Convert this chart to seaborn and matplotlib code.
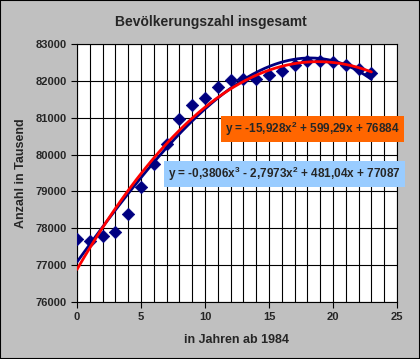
import numpy as np
import pandas as pd
import seaborn as sns
import matplotlib.pyplot as plt
from matplotlib.patches import Rectangle

# Werte
jahre = list(range(0, 24))
bevoelkerung = [77710, 77660, 77780, 77900, 78390, 79110, 79750, 80275,
                80975, 81340, 81540, 81820, 82010, 82060, 82040, 82160,
                82260, 82440, 82540, 82530, 82500, 82440, 82320, 82220]

# Trendlinien-Koeffizienten (wie im Diagramm angegeben)
koeff_quad = [-15.928, 599.29, 76884]
koeff_kub = [-0.3806, -2.7973, 481.04, 77087]
text_quad = "y = -15,928x$^2$ + 599,29x + 76884"
text_kub = "y = -0,3806x$^3$ - 2,7973x$^2$ + 481,04x + 77087"

sns.set_style("white")
plt.rcParams['font.family'] = ['Liberation Sans', 'DejaVu Sans']
plt.rcParams['font.weight'] = 'bold'
plt.rcParams['mathtext.default'] = 'regular'

df = pd.DataFrame({"jahr": jahre, "anzahl": bevoelkerung})
xs = np.linspace(0, 23, 200)
trend = pd.DataFrame({"x": xs,
                      "quad": np.polyval(koeff_quad, xs),
                      "kub": np.polyval(koeff_kub, xs)})

fig = plt.figure(figsize=(4.2, 3.59), dpi=100, facecolor="#c0c0c0")
ax = fig.add_axes([77 / 420, 1 - 302 / 359, 320 / 420, 258 / 359])
ax.set_facecolor("white")

sns.scatterplot(data=df, x="jahr", y="anzahl", marker="D", s=40,
                color="#000080", edgecolor="#000080", ax=ax, zorder=3)
sns.lineplot(data=trend, x="x", y="kub", color="#000080", lw=2, ax=ax, zorder=4)
sns.lineplot(data=trend, x="x", y="quad", color="#ff0000", lw=2, ax=ax, zorder=5)

ax.set_xlim(0, 25)
ax.set_ylim(76000, 83000)
ax.set_xticks(range(0, 26, 5))
ax.set_xticks(range(0, 26), minor=True)
ax.set_yticks(range(76000, 83001, 1000))
ax.grid(True, which="both", axis="x", color="black", lw=0.8)
ax.grid(True, which="major", axis="y", color="black", lw=0.8)
ax.set_axisbelow(True)
for s in ax.spines.values():
    s.set_color("black")
    s.set_linewidth(0.8)
ax.tick_params(axis="both", which="major", length=4, width=0.8, direction="out",
               labelsize=8, color="black", bottom=True, left=True)
ax.tick_params(axis="x", which="minor", length=0)
for lab in ax.get_xticklabels() + ax.get_yticklabels():
    lab.set_fontweight("bold")

ax.set_xlabel("in Jahren ab 1984", fontsize=9, fontweight="bold", labelpad=8)
ax.set_ylabel("Anzahl in Tausend", fontsize=9, fontweight="bold", labelpad=6)
fig.text(211 / 420, 1 - 22 / 359, "Bevölkerungszahl insgesamt", fontsize=10,
         fontweight="bold", ha="center", va="center")

fig.text(225 / 420, 1 - 129 / 359, text_quad, fontsize=8.5, fontweight="bold",
         va="center", ha="left",
         bbox=dict(boxstyle="square,pad=0.35", fc="#ff6600", ec="none"))
fig.text(168 / 420, 1 - 174 / 359, text_kub, fontsize=8.5, fontweight="bold",
         va="center", ha="left",
         bbox=dict(boxstyle="square,pad=0.35", fc="#99ccff", ec="none"))

fig.patches.append(Rectangle((0, 0), 1, 1, transform=fig.transFigure,
                             fill=False, ec="black", lw=1.5))

fig.savefig("out.png", dpi=100, facecolor=fig.get_facecolor())
